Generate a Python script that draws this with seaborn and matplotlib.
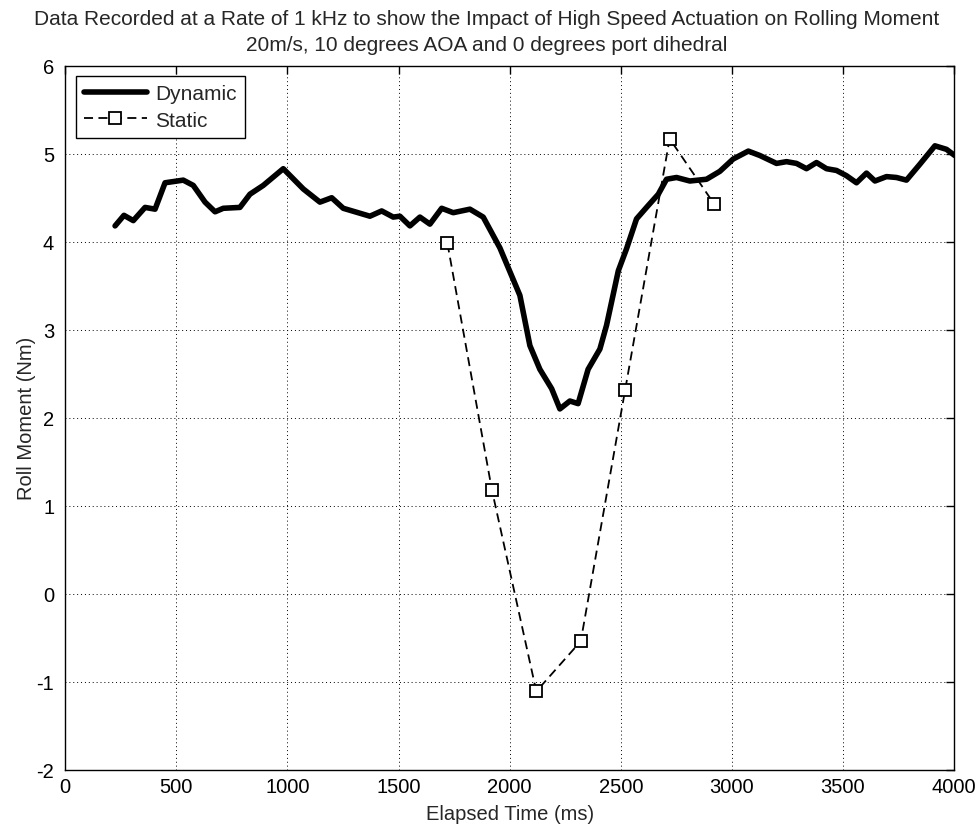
#!/usr/bin/env python3
"""Roll moment vs elapsed time: dynamic (1 kHz) trace against static points."""

import matplotlib

matplotlib.use("Agg")
import matplotlib.pyplot as plt
import pandas as pd
import seaborn as sns

# dynamic trace
DYN_TIME = [
    224, 264, 306, 359, 404, 449, 531, 576, 629, 674, 711, 786, 831, 891, 981,
    1071, 1146, 1199, 1251, 1371, 1424, 1476, 1506, 1551, 1596, 1641, 1694,
    1746, 1821, 1881, 1956, 2046, 2091, 2136, 2189, 2226, 2271, 2308, 2353,
    2406, 2436, 2489, 2526, 2571, 2616, 2669, 2706, 2751, 2811, 2886, 2946,
    3006, 3074, 3126, 3201, 3246, 3291, 3336, 3381, 3426, 3471, 3516, 3561,
    3606, 3644, 3696, 3741, 3786, 3846, 3914, 3966, 4003,
]
DYN_MOMENT = [
    4.18, 4.30, 4.24, 4.39, 4.37, 4.67, 4.70, 4.64, 4.45, 4.34, 4.38, 4.39,
    4.54, 4.64, 4.83, 4.60, 4.45, 4.50, 4.38, 4.29, 4.35, 4.28, 4.29, 4.18,
    4.28, 4.20, 4.38, 4.33, 4.37, 4.28, 3.93, 3.39, 2.82, 2.55, 2.33, 2.10,
    2.19, 2.16, 2.55, 2.78, 3.05, 3.67, 3.92, 4.26, 4.39, 4.54, 4.71, 4.73,
    4.69, 4.71, 4.80, 4.94, 5.03, 4.98, 4.89, 4.91, 4.89, 4.83, 4.90, 4.83,
    4.81, 4.75, 4.67, 4.78, 4.69, 4.74, 4.73, 4.70, 4.88, 5.09, 5.05, 4.98,
]

# static measurements
STAT_TIME = [1720, 1920, 2120, 2320, 2520, 2720, 2920]
STAT_MOMENT = [3.98, 1.18, -1.11, -0.54, 2.32, 5.17, 4.43]

TITLE = (
    "Data Recorded at a Rate of 1 kHz to show the Impact of High Speed "
    "Actuation on Rolling Moment\n20m/s, 10 degrees AOA and 0 degrees port dihedral"
)


def main() -> None:
    sns.set_style("white")
    plt.rcParams["font.family"] = ["Liberation Sans", "DejaVu Sans"]
    plt.rcParams["xtick.direction"] = "in"
    plt.rcParams["ytick.direction"] = "in"
    plt.rcParams["axes.unicode_minus"] = False

    dyn = pd.DataFrame({"t": DYN_TIME, "m": DYN_MOMENT})
    stat = pd.DataFrame({"t": STAT_TIME, "m": STAT_MOMENT})

    fig = plt.figure(figsize=(9.79, 8.28), dpi=100)
    ax = fig.add_axes([0.0667, 0.0692, 0.9078, 0.8502])

    sns.lineplot(data=dyn, x="t", y="m", ax=ax, color="black", linewidth=4,
                 label="Dynamic")
    sns.lineplot(data=stat, x="t", y="m", ax=ax, color="black", linewidth=1.3,
                 linestyle=(0, (5, 3)), marker="s", markersize=8,
                 markerfacecolor="white", markeredgecolor="black",
                 markeredgewidth=1.3, label="Static")

    ax.set_xlim(0, 4000)
    ax.set_ylim(-2, 6)
    ax.set_xticks(range(0, 4001, 500))
    ax.set_yticks(range(-2, 7))
    ax.grid(True, linestyle=(0, (1, 3)), color="black", linewidth=0.7)
    for s in ax.spines.values():
        s.set_color("black")
        s.set_linewidth(1.0)
    ax.tick_params(labelsize=14.5, length=6, width=1, colors="black",
                   top=True, right=True)
    ax.tick_params(axis="y", pad=8)
    ax.tick_params(axis="x", pad=5)

    ax.set_xlabel("Elapsed Time (ms)", fontsize=14.5, labelpad=6)
    ax.set_ylabel("Roll Moment (Nm)", fontsize=14.5, labelpad=0)
    # the title is centred on the figure, not on the axes
    fig.text(0.497, 0.988, TITLE, fontsize=15, linespacing=1.45,
             ha="center", va="top")

    leg = ax.legend(loc="upper left", fontsize=15, fancybox=False,
                    framealpha=1, edgecolor="black", borderaxespad=0.5,
                    handlelength=3.0, labelspacing=0.35, borderpad=0.4,
                    handletextpad=0.4)
    leg.get_frame().set_linewidth(1.0)

    fig.savefig("out.png", dpi=100)


if __name__ == "__main__":
    main()
